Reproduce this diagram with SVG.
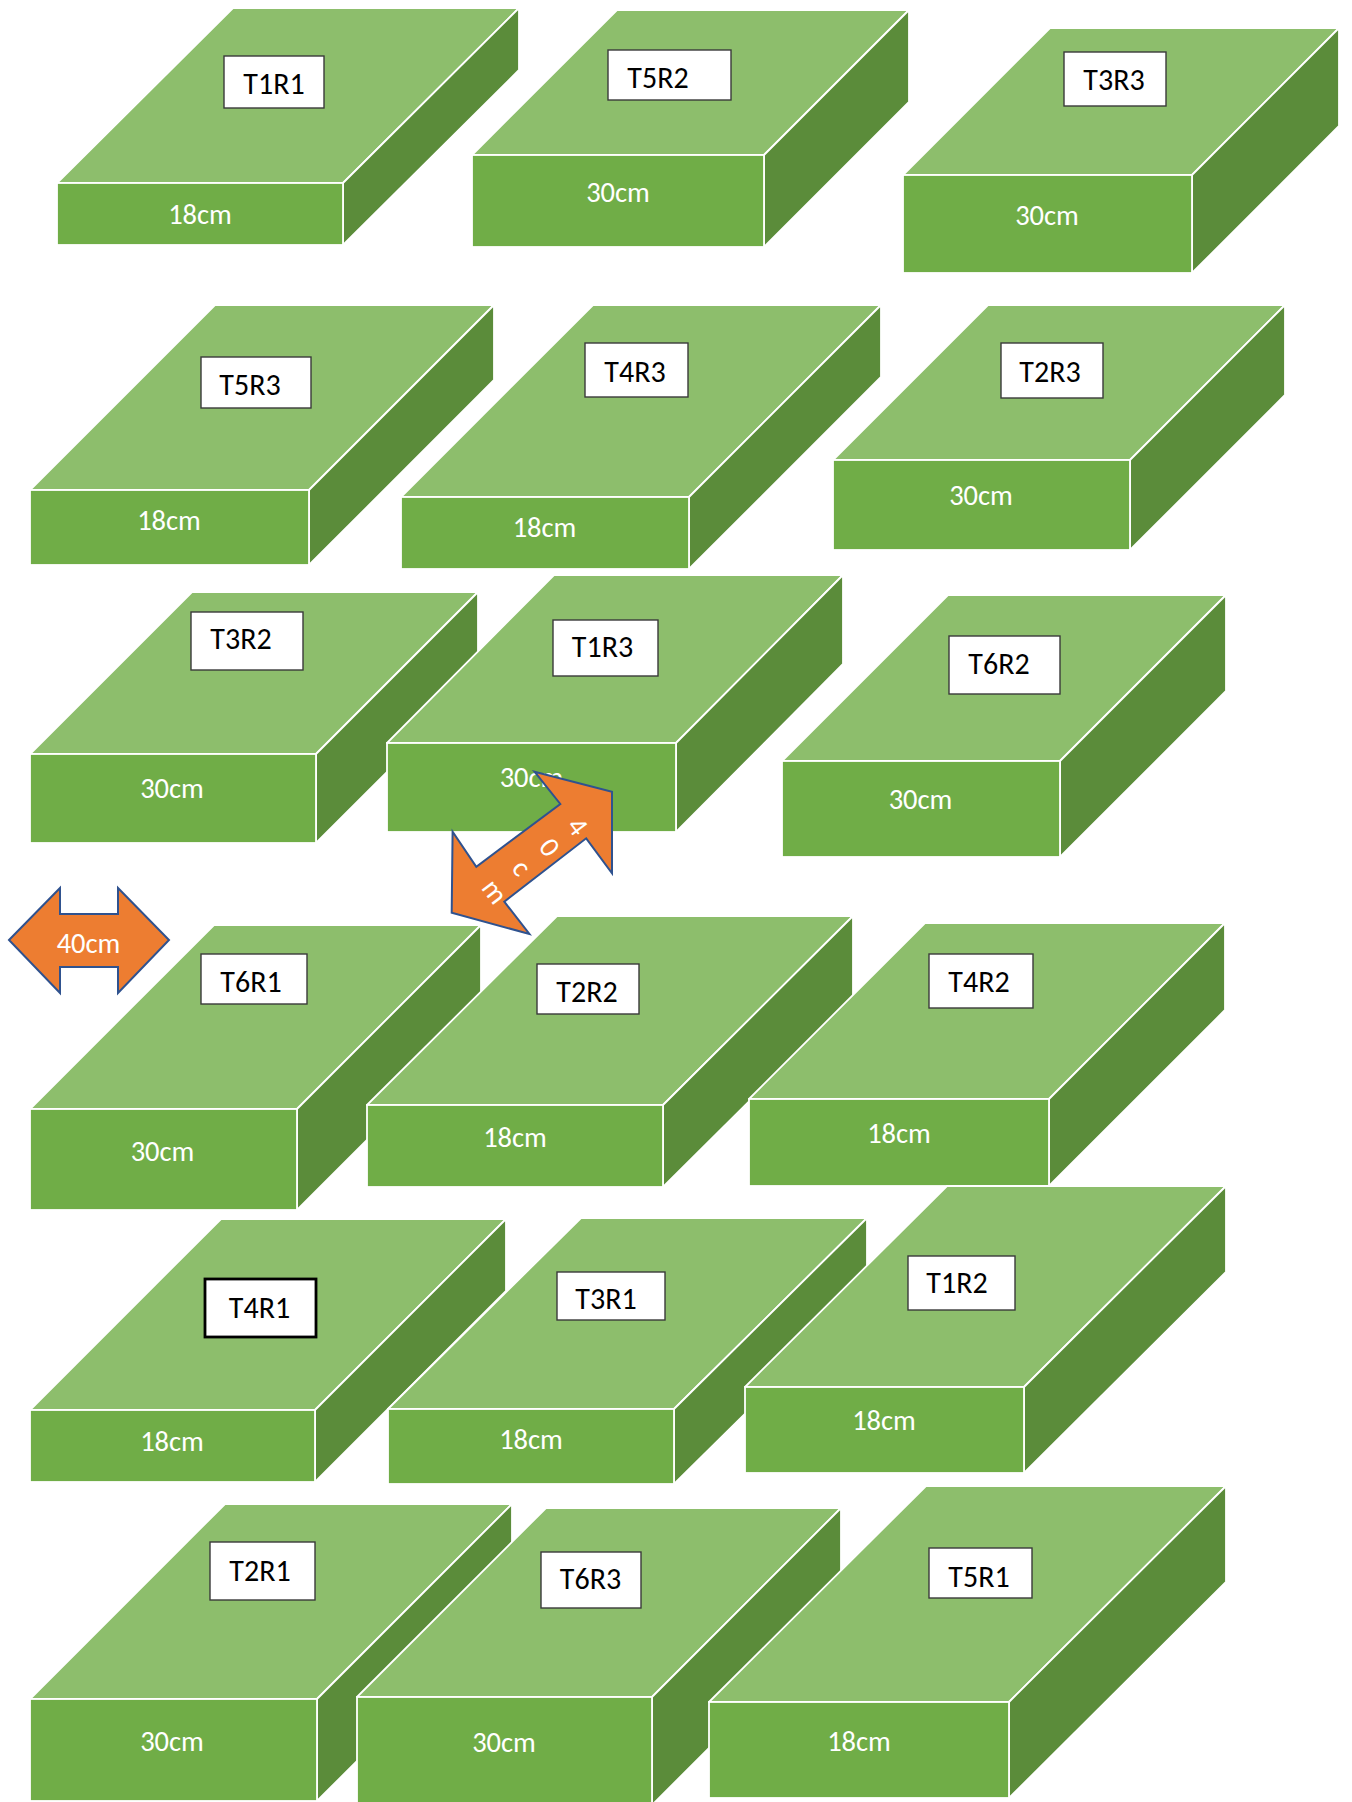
<svg xmlns="http://www.w3.org/2000/svg" width="1352" height="1802" viewBox="0 0 1352 1802">
<style>
.top{fill:#8DBE6C;stroke:#FFFFFF;stroke-width:1.8;stroke-linejoin:round}
.front{fill:#70AD47;stroke:#FFFFFF;stroke-width:1.8}
.side{fill:#5B8C3A;stroke:#FFFFFF;stroke-width:1.8;stroke-linejoin:round}
.lbl{fill:#FFFFFF;stroke:#3A3A3A;stroke-width:1.4}
.lbl2{fill:#FFFFFF;stroke:#000000;stroke-width:2.8}
.lt{font-family:Carlito,Calibri,Lato,"Liberation Sans",sans-serif;font-size:30px;fill:#000000;text-anchor:middle}
.dim{font-family:Carlito,Calibri,Lato,"Liberation Sans",sans-serif;font-size:28.5px;fill:#FFFFFF;text-anchor:middle}
.arrow{fill:#ED7D31;stroke:#2F528F;stroke-width:2;stroke-linejoin:miter}
</style>
<rect x="0" y="0" width="1352" height="1802" fill="#FFFFFF"/>

<g id="T1R1">
<polygon class="top" points="57,183 233,8 519,8 343,183"/>
<polygon class="side" points="343,183 519,8 519,70 343,245"/>
<rect class="front" x="57" y="183" width="286" height="62"/>
<rect class="lbl" x="224" y="56" width="100" height="52"/>
<text class="lt" x="274" y="94">T1R1</text>
<text class="dim" x="200" y="224">18cm</text>
</g>

<g id="T5R2">
<polygon class="top" points="472,155 617,10 909,10 764,155"/>
<polygon class="side" points="764,155 909,10 909,102 764,247"/>
<rect class="front" x="472" y="155" width="292" height="92"/>
<rect class="lbl" x="608" y="50" width="123" height="50"/>
<text class="lt" x="658" y="88">T5R2</text>
<text class="dim" x="618" y="202">30cm</text>
</g>

<g id="T3R3">
<polygon class="top" points="903,175 1050,28 1339,28 1192,175"/>
<polygon class="side" points="1192,175 1339,28 1339,126 1192,273"/>
<rect class="front" x="903" y="175" width="289" height="98"/>
<rect class="lbl" x="1064" y="52" width="102" height="54"/>
<text class="lt" x="1114" y="90">T3R3</text>
<text class="dim" x="1047" y="225">30cm</text>
</g>

<g id="T5R3">
<polygon class="top" points="30,490 215,305 494,305 309,490"/>
<polygon class="side" points="309,490 494,305 494,380 309,565"/>
<rect class="front" x="30" y="490" width="279" height="75"/>
<rect class="lbl" x="201" y="357" width="110" height="51"/>
<text class="lt" x="250" y="395">T5R3</text>
<text class="dim" x="169" y="530">18cm</text>
</g>

<g id="T4R3">
<polygon class="top" points="401,497 593,305 881,305 689,497"/>
<polygon class="side" points="689,497 881,305 881,377 689,569"/>
<rect class="front" x="401" y="497" width="288" height="72"/>
<rect class="lbl" x="585" y="343" width="103" height="54"/>
<text class="lt" x="635" y="382">T4R3</text>
<text class="dim" x="544.5" y="537">18cm</text>
</g>

<g id="T2R3">
<polygon class="top" points="833,460 988,305 1285,305 1130,460"/>
<polygon class="side" points="1130,460 1285,305 1285,395 1130,550"/>
<rect class="front" x="833" y="460" width="297" height="90"/>
<rect class="lbl" x="1001" y="343" width="102" height="55"/>
<text class="lt" x="1050" y="382">T2R3</text>
<text class="dim" x="981" y="505">30cm</text>
</g>

<g id="T3R2">
<polygon class="top" points="30,754 192,592 478,592 316,754"/>
<polygon class="side" points="316,754 478,592 478,681 316,843"/>
<rect class="front" x="30" y="754" width="286" height="89"/>
<rect class="lbl" x="191" y="612" width="112" height="58"/>
<text class="lt" x="241" y="649">T3R2</text>
<text class="dim" x="172" y="798">30cm</text>
</g>

<g id="T1R3">
<polygon class="top" points="387,743 554,575 843,575 676,743"/>
<polygon class="side" points="676,743 843,575 843,664 676,832"/>
<rect class="front" x="387" y="743" width="289" height="89"/>
<rect class="lbl" x="553" y="620" width="105" height="56"/>
<text class="lt" x="602.5" y="657">T1R3</text>
<text class="dim" x="531.5" y="787">30cm</text>
</g>

<g id="T6R2">
<polygon class="top" points="782,761 948,595 1226,595 1060,761"/>
<polygon class="side" points="1060,761 1226,595 1226,691 1060,857"/>
<rect class="front" x="782" y="761" width="278" height="96"/>
<rect class="lbl" x="949" y="636" width="111" height="58"/>
<text class="lt" x="999" y="674">T6R2</text>
<text class="dim" x="920.5" y="809">30cm</text>
</g>

<g id="T6R1">
<polygon class="top" points="30,1109 214,925 481,925 297,1109"/>
<polygon class="side" points="297,1109 481,925 481,1026 297,1210"/>
<rect class="front" x="30" y="1109" width="267" height="101"/>
<rect class="lbl" x="201" y="954" width="106" height="50"/>
<text class="lt" x="251" y="992">T6R1</text>
<text class="dim" x="162.5" y="1161">30cm</text>
</g>

<g id="T2R2">
<polygon class="top" points="367,1105 557,916 853,916 663,1105"/>
<polygon class="side" points="663,1105 853,916 853,998 663,1187"/>
<rect class="front" x="367" y="1105" width="296" height="82"/>
<rect class="lbl" x="537" y="964" width="102" height="50"/>
<text class="lt" x="587" y="1002">T2R2</text>
<text class="dim" x="515" y="1147">18cm</text>
</g>

<g id="T4R2">
<polygon class="top" points="749,1099 925,923 1225,923 1049,1099"/>
<polygon class="side" points="1049,1099 1225,923 1225,1010 1049,1186"/>
<rect class="front" x="749" y="1099" width="300" height="87"/>
<rect class="lbl" x="929" y="954" width="104" height="54"/>
<text class="lt" x="979" y="992">T4R2</text>
<text class="dim" x="899" y="1143">18cm</text>
</g>

<g id="T4R1">
<polygon class="top" points="30,1410 221,1219 506,1219 315,1410"/>
<polygon class="side" points="315,1410 506,1219 506,1291 315,1482"/>
<rect class="front" x="30" y="1410" width="285" height="72"/>
<rect class="lbl2" x="205" y="1279" width="111" height="58"/>
<text class="lt" x="259.5" y="1318">T4R1</text>
<text class="dim" x="172" y="1451">18cm</text>
</g>

<g id="T3R1">
<polygon class="top" points="388,1409 581,1218 867,1218 674,1409"/>
<polygon class="side" points="674,1409 867,1218 867,1293 674,1484"/>
<rect class="front" x="388" y="1409" width="286" height="75"/>
<rect class="lbl" x="557" y="1272" width="108" height="48"/>
<text class="lt" x="606" y="1309">T3R1</text>
<text class="dim" x="531" y="1449">18cm</text>
</g>

<g id="T1R2">
<polygon class="top" points="745,1387 947,1186 1226,1186 1024,1387"/>
<polygon class="side" points="1024,1387 1226,1186 1226,1272 1024,1473"/>
<rect class="front" x="745" y="1387" width="279" height="86"/>
<rect class="lbl" x="908" y="1256" width="107" height="54"/>
<text class="lt" x="957" y="1293">T1R2</text>
<text class="dim" x="884" y="1430">18cm</text>
</g>

<g id="T2R1">
<polygon class="top" points="30,1699 225,1504 512,1504 317,1699"/>
<polygon class="side" points="317,1699 512,1504 512,1606 317,1801"/>
<rect class="front" x="30" y="1699" width="287" height="102"/>
<rect class="lbl" x="210" y="1542" width="105" height="58"/>
<text class="lt" x="260" y="1581">T2R1</text>
<text class="dim" x="172" y="1751">30cm</text>
</g>

<g id="T6R3">
<polygon class="top" points="357,1697 546,1508 841,1508 652,1697"/>
<polygon class="side" points="652,1697 841,1508 841,1616 652,1805"/>
<rect class="front" x="357" y="1697" width="295" height="108"/>
<rect class="lbl" x="541" y="1552" width="100" height="56"/>
<text class="lt" x="590.5" y="1589">T6R3</text>
<text class="dim" x="504" y="1752">30cm</text>
</g>

<g id="T5R1">
<polygon class="top" points="709,1702 926,1486 1226,1486 1009,1702"/>
<polygon class="side" points="1009,1702 1226,1486 1226,1582 1009,1798"/>
<rect class="front" x="709" y="1702" width="300" height="96"/>
<rect class="lbl" x="929" y="1548" width="103" height="50"/>
<text class="lt" x="979" y="1587">T5R1</text>
<text class="dim" x="859" y="1751">18cm</text>
</g>

<g id="arrows">
<g id="arrow-horizontal">
<polygon class="arrow" points="9,940 60,888 60,914 118,914 118,888 169,940 118,993 118,967 60,967 60,993"/>
<text class="dim" x="88.5" y="953">40cm</text>
</g>
<g id="arrow-diagonal">
<polygon class="arrow" points="451.7,912.7 452.6,831.7 476.3,866.7 560.3,804 534.5,771.7 612,791.7 612,873.3 586.2,838.3 504.3,901.7 529.4,934"/>
<text class="dim" transform="translate(578,826) rotate(53)" x="0" y="10">4</text>
<text class="dim" transform="translate(550,847) rotate(53)" x="0" y="10">0</text>
<text class="dim" transform="translate(520,869) rotate(53)" x="0" y="7">c</text>
<text class="dim" transform="translate(493,893) rotate(53)" x="0" y="7">m</text>
</g>
</g>
</svg>
